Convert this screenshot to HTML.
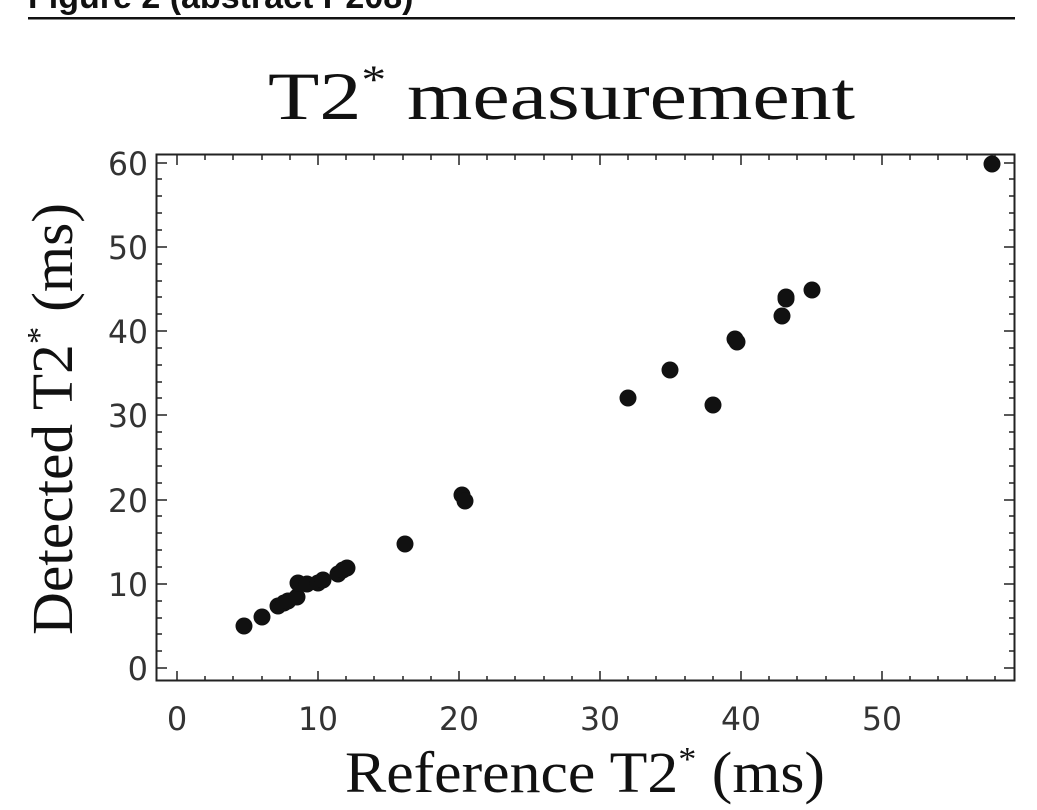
<!DOCTYPE html>
<html><head><style>body{margin:0;background:#fff}</style></head><body>
<svg width="1037" height="805" xmlns="http://www.w3.org/2000/svg">
<text x="28" y="8" font-family="Liberation Sans, sans-serif" font-weight="bold" font-size="34" fill="#111">Figure 2 (abstract P208)</text>
<rect x="28" y="17" width="987" height="2.5" fill="#111"/>
<text x="268" y="119" textLength="587" lengthAdjust="spacingAndGlyphs" font-family="Liberation Serif, serif" font-size="68" fill="#111">T2<tspan dy="-26" font-size="40">*</tspan><tspan dy="26"> measurement</tspan></text>
<rect x="156.5" y="154.5" width="858" height="526" fill="none" stroke="#222" stroke-width="2"/>
<g stroke="#222" stroke-width="1.5">
<path d="M177,681v-10M318,681v-10M459,681v-10M600,681v-10M741,681v-10M882,681v-10
M177,155v10M318,155v10M459,155v10M600,155v10M741,155v10M882,155v10
M205,681v-5M233,681v-5M262,681v-5M290,681v-5M346,681v-5M374,681v-5M403,681v-5M431,681v-5M487,681v-5M515,681v-5M544,681v-5M572,681v-5M628,681v-5M656,681v-5M685,681v-5M713,681v-5M769,681v-5M797,681v-5M826,681v-5M854,681v-5M910,681v-5M938,681v-5M967,681v-5M995,681v-5
M205,155v5M233,155v5M262,155v5M290,155v5M346,155v5M374,155v5M403,155v5M431,155v5M487,155v5M515,155v5M544,155v5M572,155v5M628,155v5M656,155v5M685,155v5M713,155v5M769,155v5M797,155v5M826,155v5M854,155v5M910,155v5M938,155v5M967,155v5M995,155v5"/>
<path d="M157,668h10M157,584h10M157,500h10M157,415h10M157,331h10M157,247h10M157,163h10
M1014,668h-10M1014,584h-10M1014,500h-10M1014,415h-10M1014,331h-10M1014,247h-10M1014,163h-10
M157,651h5M157,634h5M157,618h5M157,601h5M157,567h5M157,550h5M157,533h5M157,516h5M157,483h5M157,466h5M157,449h5M157,432h5M157,398h5M157,382h5M157,365h5M157,348h5M157,314h5M157,297h5M157,281h5M157,264h5M157,230h5M157,213h5M157,196h5M157,179h5
M1014,651h-5M1014,634h-5M1014,618h-5M1014,601h-5M1014,567h-5M1014,550h-5M1014,533h-5M1014,516h-5M1014,483h-5M1014,466h-5M1014,449h-5M1014,432h-5M1014,398h-5M1014,382h-5M1014,365h-5M1014,348h-5M1014,314h-5M1014,297h-5M1014,281h-5M1014,264h-5M1014,230h-5M1014,213h-5M1014,196h-5M1014,179h-5"/>
</g>
<g font-family="DejaVu Sans, sans-serif" font-size="32" fill="#333" text-anchor="middle">
<text x="177" y="730">0</text><text x="318" y="730" textLength="40" lengthAdjust="spacingAndGlyphs">10</text><text x="459" y="730" textLength="40" lengthAdjust="spacingAndGlyphs">20</text><text x="600" y="730" textLength="40" lengthAdjust="spacingAndGlyphs">30</text><text x="741" y="730" textLength="40" lengthAdjust="spacingAndGlyphs">40</text><text x="882" y="730" textLength="40" lengthAdjust="spacingAndGlyphs">50</text>
</g>
<g font-family="DejaVu Sans, sans-serif" font-size="32" fill="#333" text-anchor="end">
<text x="148" y="680">0</text><text x="148" y="596" textLength="40" lengthAdjust="spacingAndGlyphs">10</text><text x="148" y="512" textLength="40" lengthAdjust="spacingAndGlyphs">20</text><text x="148" y="427" textLength="40" lengthAdjust="spacingAndGlyphs">30</text><text x="148" y="343" textLength="40" lengthAdjust="spacingAndGlyphs">40</text><text x="148" y="259" textLength="40" lengthAdjust="spacingAndGlyphs">50</text><text x="148" y="175" textLength="40" lengthAdjust="spacingAndGlyphs">60</text>
</g>
<text x="345" y="792" textLength="480" lengthAdjust="spacingAndGlyphs" font-family="Liberation Serif, serif" font-size="58" fill="#111">Reference T2<tspan dy="-22" font-size="34">*</tspan><tspan dy="22"> (ms)</tspan></text>
<text transform="translate(72,635) rotate(-90)" textLength="432" lengthAdjust="spacingAndGlyphs" font-family="Liberation Serif, serif" font-size="58" fill="#111">Detected T2<tspan dy="-22" font-size="34">*</tspan><tspan dy="22"> (ms)</tspan></text>
<g fill="#111">
<circle cx="244" cy="626" r="8.5"/><circle cx="262" cy="617" r="8.5"/><circle cx="278" cy="606" r="8.5"/><circle cx="284" cy="603" r="8.5"/><circle cx="288" cy="601" r="8.5"/><circle cx="297" cy="597" r="8.5"/><circle cx="298" cy="583" r="8.5"/><circle cx="307" cy="584" r="8.5"/><circle cx="318" cy="583" r="8.5"/><circle cx="323" cy="580" r="8.5"/><circle cx="338" cy="574" r="8.5"/><circle cx="343" cy="570" r="8.5"/><circle cx="347" cy="568" r="8.5"/><circle cx="405" cy="544" r="8.5"/><circle cx="462" cy="495" r="8.5"/><circle cx="465" cy="501" r="8.5"/><circle cx="628" cy="398" r="8.5"/><circle cx="670" cy="370" r="8.5"/><circle cx="713" cy="405" r="8.5"/><circle cx="735" cy="339" r="8.5"/><circle cx="737" cy="342" r="8.5"/><circle cx="782" cy="316" r="8.5"/><circle cx="786" cy="297" r="8.5"/><circle cx="786" cy="299" r="8.5"/><circle cx="812" cy="290" r="8.5"/><circle cx="992" cy="164" r="8.5"/>
</g>
</svg>
</body></html>
